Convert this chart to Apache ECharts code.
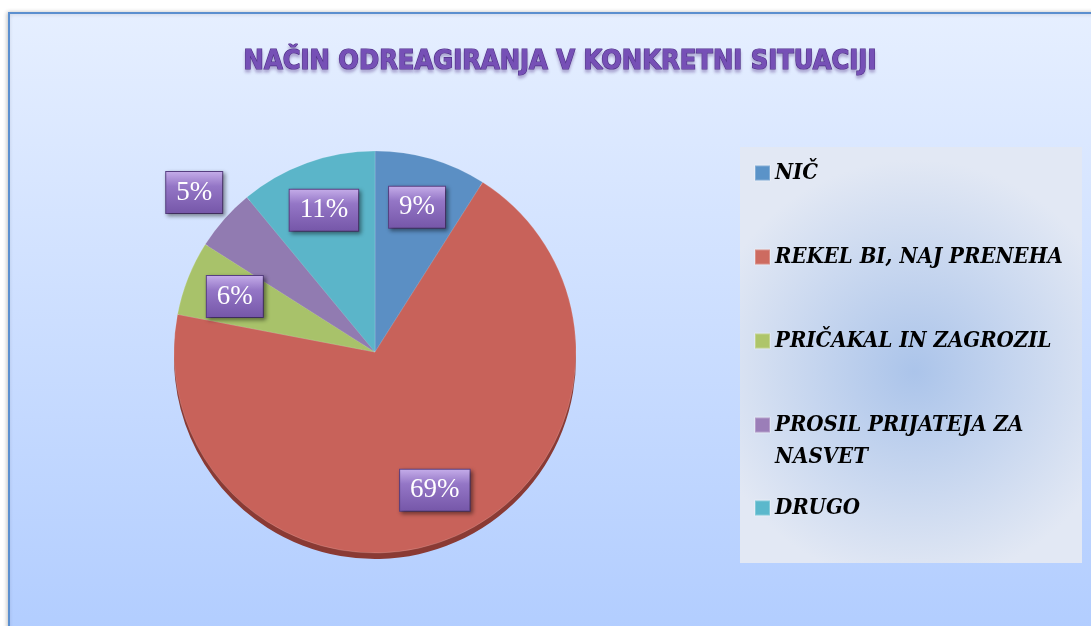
<!DOCTYPE html>
<html>
<head>
<meta charset="utf-8">
<style>
  html, body { margin: 0; padding: 0; background: #ffffff; }
  #chart { width: 1091px; height: 626px; }
</style>
<script src="https://cdn.jsdelivr.net/npm/echarts@6/dist/echarts.min.js"></script>
</head>
<body>
<div id="chart"></div>
<script>
// ---- data ----
const titleText = 'NAČIN ODREAGIRANJA V KONKRETNI SITUACIJI';
const categories = ['NIČ', 'REKEL BI, NAJ PRENEHA', 'PRIČAKAL IN ZAGROZIL', 'PROSIL PRIJATEJA ZA NASVET', 'DRUGO'];
const values = [9, 69, 6, 5, 11];

// ---- styles ----
const sliceColors = ['#5b8fc4', '#c8625a', '#a8c26a', '#917bb1', '#5bb5c9'];
const rimColors = ['#3e6a98', '#8a3a34', '#778e45', '#64507f', '#3a8799'];
const legendColors = ['#5b93c8', '#cd6b60', '#aec56a', '#9b7eb8', '#5bb8cc'];

const CX = 375, CY = 352, R = 201;
const total = values.reduce((a, b) => a + b, 0);

const chart = echarts.init(document.getElementById('chart'), null, { renderer: 'canvas' });

const legendCenters = [173, 257, 341, 425, 508];
const legends = categories.map((name, i) => {
  const multi = name.length > 22;
  return {
    orient: 'vertical',
    left: 754,
    top: multi ? legendCenters[i] - 48 : legendCenters[i] - 16,
    padding: 0,
    itemWidth: 15,
    itemHeight: 15,
    icon: 'rect',
    selectedMode: false,
    formatter: multi ? function (n) { return '\n' + n; } : '{name}',
    data: [{ name: name, itemStyle: { color: legendColors[i] } }],
    textStyle: {
      fontFamily: '"DejaVu Serif Condensed", "DejaVu Serif", serif',
      fontWeight: 'bold',
      fontStyle: 'italic',
      fontSize: 22,
      lineHeight: 32,
      color: '#000000',
      width: 290,
      overflow: 'break'
    }
  };
});

const option = {
  backgroundColor: '#ffffff',
  animation: false,
  graphic: [
    {
      type: 'rect', z: -10,
      shape: { x: 9, y: 13, width: 1100, height: 640 },
      style: {
        fill: new echarts.graphic.LinearGradient(0, 0, 0, 1, [
          { offset: 0, color: '#e6efff' },
          { offset: 1, color: '#b0ccff' }
        ]),
        stroke: '#5b8fcf', lineWidth: 2,
        shadowColor: 'rgba(0,0,0,0.2)', shadowBlur: 4, shadowOffsetX: -1
      }
    },
    {
      type: 'rect', z: -9,
      shape: { x: 740, y: 147, width: 342, height: 416 },
      style: {
        fill: new echarts.graphic.RadialGradient(0.51, 0.54, 0.62, [
          { offset: 0, color: '#abc4ea' },
          { offset: 1, color: '#e2e8f4' }
        ])
      }
    }
  ],
  title: {
    text: titleText,
    left: 555,
    textAlign: 'center',
    top: 43,
    textStyle: {
      fontFamily: '"Liberation Sans Narrow", "DejaVu Sans Condensed", "Open Sans", sans-serif',
      fontWeight: 'bold',
      fontSize: 27,
      color: '#7650b6',
      textBorderColor: '#4e2e86',
      textBorderWidth: 1.2,
      textShadowColor: 'rgba(90,60,140,0.35)',
      textShadowBlur: 3,
      textShadowOffsetY: 3
    }
  },
  legend: legends,
  series: [
    {
      type: 'pie',
      silent: true,
      center: [CX, CY + 6],
      radius: R,
      startAngle: 90,
      clockwise: true,
      z: 1,
      label: { show: false },
      labelLine: { show: false },
      data: categories.map((n, i) => ({ name: n + ' ', value: values[i], itemStyle: { color: rimColors[i] } }))
    },
    {
      type: 'pie',
      center: [CX, CY],
      radius: R,
      startAngle: 90,
      clockwise: true,
      z: 2,
      itemStyle: { borderColor: 'rgba(255,255,255,0.25)', borderWidth: 0.6 },
      data: categories.map((n, i) => ({ name: n, value: values[i], itemStyle: { color: sliceColors[i] } })),
      labelLine: { show: false },
      label: {
        show: true,
        position: 'inside',
        formatter: '{c}%',
        fontFamily: '"Liberation Serif", "DejaVu Serif", serif',
        fontSize: 27,
        lineHeight: 31,
        color: '#ffffff',
        padding: [5, 10, 5, 10],
        backgroundColor: new echarts.graphic.LinearGradient(0, 0, 0, 1, [
          { offset: 0, color: '#c6aeea' },
          { offset: 0.35, color: '#9476c6' },
          { offset: 1, color: '#7556a8' }
        ]),
        borderColor: '#5a4186',
        borderWidth: 1,
        shadowColor: 'rgba(0,0,0,0.4)',
        shadowBlur: 4,
        shadowOffsetX: 2,
        shadowOffsetY: 2
      },
      labelLayout: function (params) {
        const i = params.dataIndex;
        let before = 0;
        for (let k = 0; k < i; k++) before += values[k];
        const frac = values[i] / total;
        const mid = (before / total + frac / 2) * Math.PI * 2;
        const chord = 2 * 0.75 * R * Math.sin(frac * Math.PI);
        const w = params.labelRect.width;
        const dist = chord >= w * 0.9 ? 0.75 * R : R + 40;
        return {
          x: CX + dist * Math.sin(mid),
          y: CY - dist * Math.cos(mid),
          align: 'center',
          verticalAlign: 'middle'
        };
      }
    }
  ]
};

chart.setOption(option);
</script>
</body>
</html>
